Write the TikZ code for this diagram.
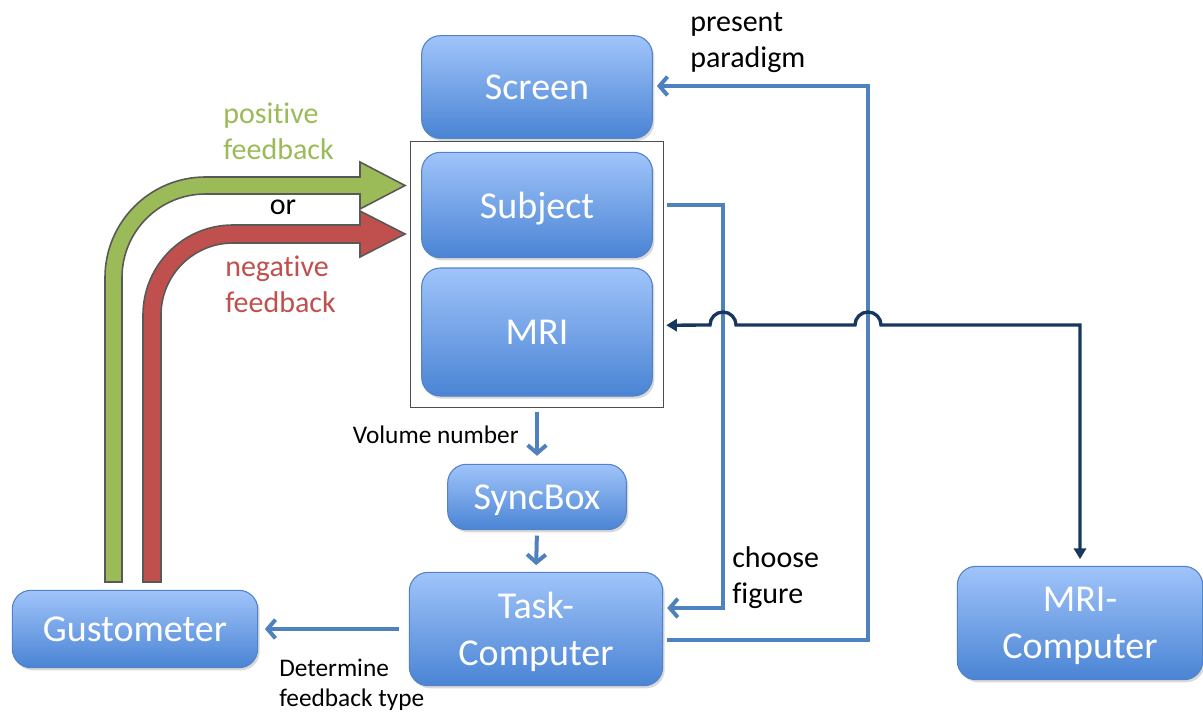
\documentclass[tikz,border=0pt]{standalone}
\usepackage{fontspec}
\setmainfont{Carlito}[Ligatures=NoCommon]
\usetikzlibrary{arrows.meta,fit,shadows,calc}

\definecolor{boxtop}{RGB}{160,196,250}
\definecolor{boxbot}{RGB}{74,132,212}
\definecolor{boxline}{RGB}{82,130,200}
\definecolor{linkblue}{RGB}{79,129,189}
\definecolor{navy}{RGB}{23,55,94}
\definecolor{posgreen}{RGB}{155,187,89}
\definecolor{negred}{RGB}{192,80,77}

\tikzset{
  unit/.style={rounded corners=14pt, draw=boxline, line width=0.8pt,
    top color=boxtop, bottom color=boxbot, text=white, align=center,
    font=\fontsize{28.5}{35}\selectfont, text depth=0pt,
    drop shadow={shadow xshift=1.5pt,shadow yshift=-2pt,opacity=0.3}},
  link/.style={draw=linkblue, line width=3pt, -{Straight Barb[length=6pt,width=14pt]}},
  scanlink/.style={draw=navy, line width=2.5pt,
    {Triangle[length=8pt,width=9pt]}-{Triangle[length=8pt,width=9pt]}},
  note/.style={inner sep=0pt, align=left, font=\fontsize{22.5}{27}\selectfont},
  small/.style={inner sep=0pt, align=left, font=\fontsize{19}{22.5}\selectfont},
  fat/.style={draw=black!65, line width=1.2pt, line join=miter},
}

\begin{document}
\begin{tikzpicture}[x=0.75pt,y=-0.75pt]
\useasboundingbox (0,0) rectangle (1203,713);

% units
\node[unit, minimum width=173pt, minimum height=77pt] (scr) at (537,87) {Screen};
\node[unit, minimum width=173pt, minimum height=79pt] (subj) at (537,205) {Subject};
\node[unit, minimum width=173pt, minimum height=96pt] (mri) at (537,332) {MRI};
\node[unit, minimum width=134pt, minimum height=49pt] (sync) at (537,497) {SyncBox};
\node[unit, minimum width=190pt, minimum height=85pt] (task) at (536,629) {Task-\\Computer};
\node[unit, minimum width=184pt, minimum height=58pt] (gust) at (135,629) {Gustometer};
\node[unit, minimum width=184pt, minimum height=85pt] (mrc) at (1080,623) {MRI-\\Computer};
\node[draw=black!70, line width=0.9pt, fit=(subj)(mri), inner sep=8pt] (frame) {};

% feedback arrows
\filldraw[fat, fill=posgreen] (105,582) -- (105,277.5) arc[start angle=180,end angle=270,radius=100.5]
  -- (360,177) -- (360,162) -- (405,185.5) -- (360,209) -- (360,194) -- (205.5,194)
  arc[start angle=270,end angle=180,radius=83.5] -- (122,582) -- cycle;
\filldraw[fat, fill=negred] (143,582) -- (143,315) arc[start angle=180,end angle=270,radius=90]
  -- (360,225) -- (360,211) -- (405,234) -- (360,257) -- (360,243) -- (233,243)
  arc[start angle=270,end angle=180,radius=72] -- (161,582) -- cycle;

\node[note, text=posgreen, anchor=west] (pos) at (223,131) {positive\\feedback};
\node[note, anchor=center] (or) at (283,207) {or};
\node[note, text=negred, anchor=west] (neg) at (225,284) {negative\\feedback};

% task computer links
\draw[link, shorten <=3pt, shorten >=6pt] (frame.south) -- (sync.north);
\draw[link, shorten <=4pt, shorten >=5pt] (sync.south) -- (task.north);
\node[small, anchor=east] (vol) at (519,435) {Volume number};

\coordinate (cf) at (723,608);
\draw[link, shorten >=3pt] ($(frame.east |- subj.east)+(3,0)$) -| (cf) -- (cf -| task.east);
\node[note, anchor=west] (choose) at (732,578) {choose\\figure};

\coordinate (pp) at (868,86);
\draw[link, shorten <=3pt, shorten >=3pt] ([yshift=-8pt]task.east) -| (pp) -- (pp -| scr.east);
\node[note, anchor=west] (pres) at (690,43) {present\\paradigm};

\draw[link, shorten <=7pt, shorten >=5pt] (task.west) -- (gust.east);
\node[small, anchor=west] (fbtype) at (279,685) {Determine\\feedback type};

% scanner line, hopping over the two links
\draw[scanlink, shorten <=10pt, shorten >=5pt] ([yshift=5pt]mri.east) -- (710,325)
  arc[start angle=180,end angle=360,radius=13] -- (855,325)
  arc[start angle=180,end angle=360,radius=13] -| (mrc.north);

\end{tikzpicture}
\end{document}
